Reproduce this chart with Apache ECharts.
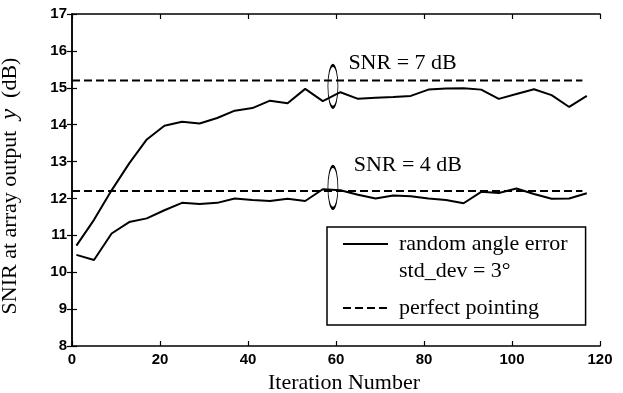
<!DOCTYPE html>
<html>
<head>
<meta charset="utf-8">
<script src="https://cdn.jsdelivr.net/npm/echarts@6/dist/echarts.min.js"></script>
<style>
  html, body { margin: 0; padding: 0; background: #fff; }
  #chart { width: 623px; height: 393px; }
</style>
</head>
<body>
<div id="chart"></div>
<script>
const iterations = [1, 5, 9, 13, 17, 21, 25, 29, 33, 37, 41, 45, 49, 53, 57, 61, 65, 69, 73, 77, 81, 85, 89, 93, 97, 101, 105, 109, 113, 117];
const snr7 = [10.72, 11.42, 12.22, 12.95, 13.6, 13.97, 14.08, 14.03, 14.18, 14.38, 14.45, 14.65, 14.58, 14.97, 14.64, 14.88, 14.7, 14.73, 14.75, 14.78, 14.95, 14.98, 14.99, 14.95, 14.7, 14.83, 14.96, 14.8, 14.48, 14.78];
const snr4 = [10.47, 10.33, 11.05, 11.36, 11.46, 11.68, 11.88, 11.85, 11.88, 12.0, 11.96, 11.93, 11.99, 11.93, 12.25, 12.22, 12.1, 12.0, 12.08, 12.06, 12.0, 11.96, 11.87, 12.18, 12.15, 12.27, 12.12, 11.99, 12.0, 12.14];
const perfectX = [0, 116];
const perfect7 = [15.2, 15.2];
const perfect4 = [12.2, 12.2];
const xTicks = [0, 20, 40, 60, 80, 100, 120];
const yTicks = [8, 9, 10, 11, 12, 13, 14, 15, 16, 17];
const snrNotes = [
  { text: 'SNR = 7 dB', x: 62.7, y: 15.67, ellipseX: 59.3, ellipseY: 15.04 },
  { text: 'SNR = 4 dB', x: 63.9, y: 12.91, ellipseX: 59.3, ellipseY: 12.3 }
];
const stdDevName = 'std_dev = 3\u00b0';

const serif = '"Liberation Serif", "Times New Roman", serif';
const sans = '"Liberation Sans", Arial, sans-serif';

const pairs = (xs, ys) => xs.map((x, i) => [x, ys[i]]);

const chart = echarts.init(document.getElementById('chart'));

const axisCommon = {
  type: 'value',
  axisLine: { show: true, lineStyle: { color: '#000', width: 1.5 } },
  axisTick: { show: true, inside: true, length: 5, lineStyle: { color: '#000', width: 1.2 } },
  splitLine: { show: false }
};

const noteMarks = (note) => ({
  symbol: 'none',
  silent: true,
  data: [
    {
      coord: [note.x, note.y],
      symbol: 'circle',
      symbolSize: 1,
      itemStyle: { color: 'transparent' },
      label: {
        show: true,
        position: 'right',
        distance: 0,
        formatter: note.text,
        color: '#000',
        fontFamily: serif,
        fontSize: 22
      }
    },
    {
      coord: [note.ellipseX, note.ellipseY],
      symbol: 'circle',
      symbolSize: [10, 42],
      itemStyle: { color: 'transparent', borderColor: '#000', borderWidth: 1.6 },
      label: { show: false }
    }
  ]
});

const option = {
  backgroundColor: '#fff',
  animation: false,
  grid: { left: 72, right: 23, top: 14, bottom: 47, outerBoundsMode: 'none', containLabel: false },
  xAxis: [
    Object.assign({}, axisCommon, {
      min: 0, max: 120, interval: 20,
      position: 'bottom',
      name: 'Iteration Number',
      nameLocation: 'middle',
      nameGap: 18,
      nameTextStyle: { fontFamily: serif, fontSize: 22, color: '#000', padding: [0, 0, 0, 16] },
      axisLabel: {
        margin: 6, color: '#000', fontFamily: sans, fontSize: 15, fontWeight: 'bold',
        formatter: (v) => xTicks.includes(v) ? String(v) : ''
      }
    }),
    Object.assign({}, axisCommon, {
      min: 0, max: 120, interval: 20,
      position: 'top',
      axisLabel: { show: false }
    })
  ],
  yAxis: [
    Object.assign({}, axisCommon, {
      min: 8, max: 17, interval: 1,
      position: 'left',
      name: 'SNIR at array output  {i|y}  (dB)',
      nameLocation: 'middle',
      nameGap: 50,
      nameTextStyle: {
        fontFamily: serif, fontSize: 22, color: '#000', padding: [0, 12, 0, 0],
        rich: { i: { fontFamily: serif, fontSize: 24, fontStyle: 'italic', color: '#000' } }
      },
      axisLabel: {
        margin: 5, color: '#000', fontFamily: sans, fontSize: 15, fontWeight: 'bold',
        formatter: (v) => yTicks.includes(v) ? String(v) : ''
      }
    }),
    Object.assign({}, axisCommon, {
      min: 8, max: 17, interval: 1,
      position: 'right',
      axisLabel: { show: false }
    })
  ],
  legend: {
    orient: 'vertical',
    left: 327,
    top: 227,
    padding: [6, 18, 6, 15],
    itemGap: 5,
    itemWidth: 45,
    itemHeight: 14,
    borderColor: '#000',
    borderWidth: 1.5,
    backgroundColor: '#fff',
    selectedMode: false,
    itemStyle: { opacity: 0 },
    formatter: (name) => name === stdDevName ? '{a|' + name + '}\n{b| }' : name,
    textStyle: {
      fontFamily: serif, fontSize: 22, lineHeight: 22, color: '#000', padding: [0, 0, 0, 6],
      rich: {
        a: { fontFamily: serif, fontSize: 22, lineHeight: 22, color: '#000' },
        b: { fontSize: 10, lineHeight: 10 }
      }
    },
    data: [
      { name: 'random angle error' },
      { name: stdDevName, itemStyle: { opacity: 0 }, lineStyle: { opacity: 0 } },
      { name: 'perfect pointing' }
    ]
  },
  series: [
    {
      name: 'random angle error',
      type: 'line',
      data: pairs(iterations, snr7),
      showSymbol: false,
      symbol: 'none',
      lineStyle: { color: '#000', width: 2 },
      itemStyle: { color: '#000' },
      z: 3
    },
    {
      name: 'random angle error',
      type: 'line',
      data: pairs(iterations, snr4),
      showSymbol: false,
      symbol: 'none',
      lineStyle: { color: '#000', width: 2 },
      itemStyle: { color: '#000' },
      z: 3
    },
    {
      name: 'perfect pointing',
      type: 'line',
      data: pairs(perfectX, perfect7),
      showSymbol: false,
      symbol: 'none',
      lineStyle: { color: '#000', width: 2, type: [8, 4] },
      itemStyle: { color: '#000' },
      markPoint: noteMarks(snrNotes[0])
    },
    {
      name: 'perfect pointing',
      type: 'line',
      data: pairs(perfectX, perfect4),
      showSymbol: false,
      symbol: 'none',
      lineStyle: { color: '#000', width: 2, type: [8, 4] },
      itemStyle: { color: '#000' },
      markPoint: noteMarks(snrNotes[1])
    },
    {
      name: stdDevName,
      type: 'line',
      data: [],
      symbol: 'none',
      lineStyle: { opacity: 0 },
      itemStyle: { opacity: 0 }
    }
  ]
};

chart.setOption(option);
</script>
</body>
</html>
